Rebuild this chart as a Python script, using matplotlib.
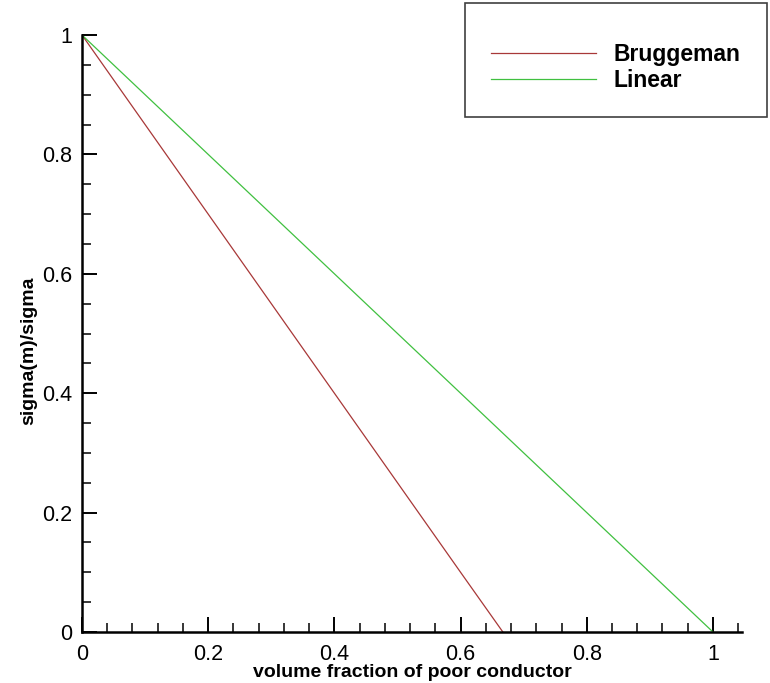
import matplotlib
matplotlib.use("Agg")
import matplotlib.pyplot as plt
from matplotlib.patches import Rectangle
from matplotlib.ticker import MultipleLocator

# -----------------------------
# DATA
# -----------------------------
fraction_brugg = [0.0, 0.1, 0.2, 0.3, 0.4, 0.5, 0.6, 0.667]
sigma_brugg = [1.0, 0.85, 0.70, 0.55, 0.40, 0.25, 0.10, 0.0]

fraction_linear = [0.0, 0.2, 0.4, 0.6, 0.8, 1.0]
sigma_linear = [1.0, 0.8, 0.6, 0.4, 0.2, 0.0]

series_names = ["Bruggeman", "Linear"]
x_ticks = [0, 0.2, 0.4, 0.6, 0.8, 1]
y_ticks = [0, 0.2, 0.4, 0.6, 0.8, 1]
tick_labels = ["0", "0.2", "0.4", "0.6", "0.8", "1"]

RED = "#a83838"
GREEN = "#40c040"
W, H = 770, 683

plt.rcParams["font.family"] = ["Liberation Sans", "DejaVu Sans"]

fig = plt.figure(figsize=(W / 100, H / 100), dpi=100)
ax = fig.add_axes([82 / W, 1 - 632 / H, 660 / W, 597 / H])

ax.plot(fraction_brugg, sigma_brugg, color=RED, lw=0.9, label=series_names[0])
ax.plot(fraction_linear, sigma_linear, color=GREEN, lw=0.9, label=series_names[1])

ax.set_xlim(0, 1.046)
ax.set_ylim(0, 1)
ax.set_xticks(x_ticks)
ax.set_xticklabels(tick_labels)
ax.set_yticks(y_ticks)
ax.set_yticklabels(tick_labels)
ax.xaxis.set_minor_locator(MultipleLocator(0.04))
ax.yaxis.set_minor_locator(MultipleLocator(0.05))

for side in ("top", "right"):
    ax.spines[side].set_visible(False)
for side in ("left", "bottom"):
    ax.spines[side].set_linewidth(1.8)
    ax.spines[side].set_clip_on(False)

ax.tick_params(which="major", direction="in", length=11, width=1.4,
               labelsize=15.5, pad=9)
ax.tick_params(which="minor", direction="in", length=6.5, width=1.1)
ax.tick_params(axis="y", pad=7)

ax.set_xlabel("volume fraction of poor conductor", fontsize=14,
              fontweight="bold")
ax.set_ylabel("sigma(m)/sigma", fontsize=14, fontweight="bold")
ax.xaxis.set_label_coords(0.5, -(664 - 632) / 597)
ax.yaxis.set_label_coords((37 - 82) / 660, (632 - 351) / 597)

# legend box drawn by hand, entries placed inside it
fig.patches.append(Rectangle((465 / W, 1 - 117 / H), 302 / W, 114 / H,
                             transform=fig.transFigure, fill=False,
                             edgecolor="#404040", linewidth=1.2))
fig.legend(loc="upper left", bbox_to_anchor=(491 / W, 1 - 43 / H),
           prop={"weight": "bold", "size": 16.5}, frameon=False,
           handlelength=4.6, handletextpad=0.74, labelspacing=0.12,
           borderpad=0, borderaxespad=0)

fig.savefig("out.png", dpi=100)
